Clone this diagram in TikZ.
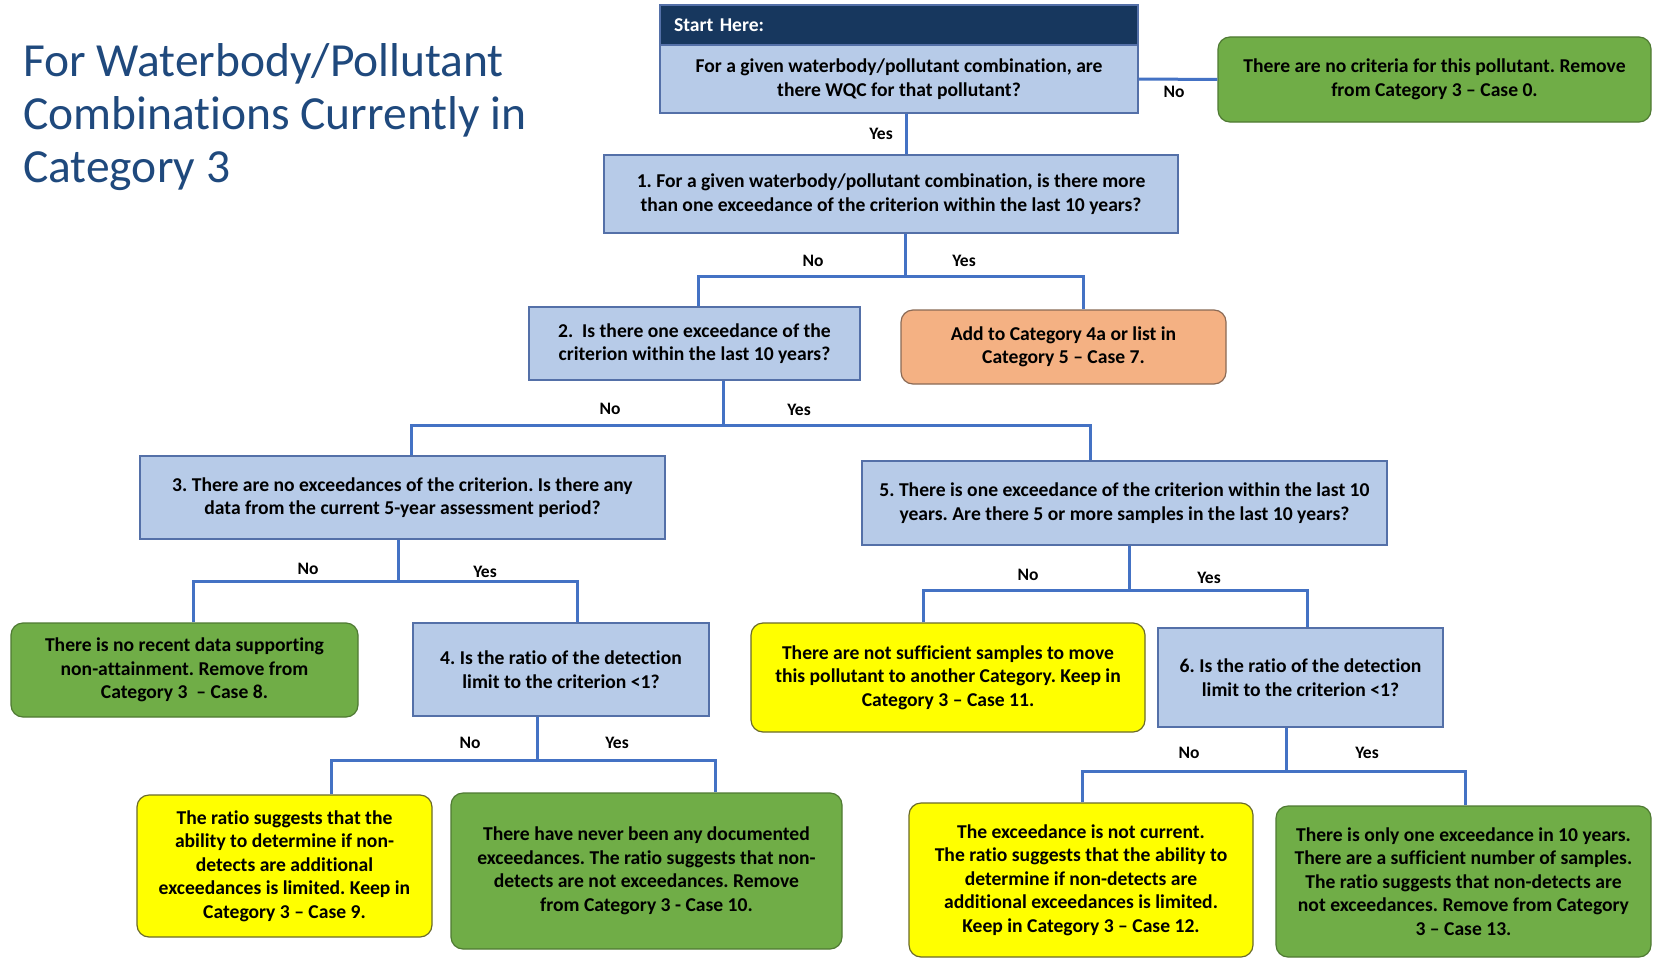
\documentclass[tikz,border=0pt]{standalone}
\usepackage{fontspec}
\setmainfont{Carlito}[Ligatures=NoCommon]
\frenchspacing
\definecolor{navy}{HTML}{17375E}
\definecolor{qfill}{HTML}{B7CBE8}
\definecolor{qborder}{HTML}{5470A8}
\definecolor{lineblue}{HTML}{4472C4}
\definecolor{gfill}{HTML}{70AD47}
\definecolor{gborder}{HTML}{4F7A33}
\definecolor{yfill}{HTML}{FFFF00}
\definecolor{yborder}{HTML}{6B6B2A}
\definecolor{ofill}{HTML}{F4B183}
\definecolor{oborder}{HTML}{8A6A55}
\definecolor{titleblue}{HTML}{1F497D}
\begin{document}
\begin{tikzpicture}[x=1pt,y=-1pt,
  box/.style={draw, line width=1.2pt, inner sep=0pt, align=center, font=\bfseries\fontsize{19.6}{23.5}\selectfont},
  qbox/.style={box, fill=qfill, draw=qborder},
  gbox/.style={box, fill=gfill, draw=gborder, rounded corners=12pt},
  ybox/.style={box, fill=yfill, draw=yborder, rounded corners=12pt},
  obox/.style={box, fill=ofill, draw=oborder, rounded corners=12pt},
  conn/.style={draw=lineblue, line width=3pt},
  lbl/.style={font=\bfseries\fontsize{17.5}{20}\selectfont, inner sep=0pt},
  ttl/.style={anchor=base west, inner sep=0pt, text=titleblue, font=\fontsize{47.5}{52}\selectfont}]
\useasboundingbox (0,0) rectangle (1653,958);
\fill[white] (0,0) rectangle (1653,958);

% title
\node[ttl] (t1) at (23,77) {For Waterbody/Pollutant};
\node[ttl] (t2) at (23,129.5) {Combinations Currently in};
\node[ttl] (t3) at (23,182) {Category 3};

% boxes
\node[draw=qborder, fill=navy, line width=1.2pt, minimum width=478pt, minimum height=40pt, inner xsep=14pt, inner ysep=0pt, text width=450pt, align=left, text=white, font=\bfseries\fontsize{19.6}{23.5}\selectfont] (hdr) at (899,25) {Start Here:};
\node[qbox, minimum width=478pt, minimum height=68pt] (start) at (899,79) {For a given waterbody/pollutant combination, are\\there WQC for that pollutant?};
\node[gbox, minimum width=433pt, minimum height=85pt] (c0) at (1434.5,79.5) {There are no criteria for this pollutant. Remove\\from Category 3 -- Case 0.};
\node[qbox, minimum width=574pt, minimum height=78pt] (q1) at (891,194) {1. For a given waterbody/pollutant combination, is there more\\than one exceedance of the criterion within the last 10 years?};
\node[qbox, minimum width=331pt, minimum height=73pt] (q2) at (694.5,343.5) {2.\ \ Is there one exceedance of the\\criterion within the last 10 years?};
\node[obox, minimum width=325pt, minimum height=74pt] (c7) at (1063.5,347) {Add to Category 4a or list in\\Category 5 -- Case 7.};
\node[qbox, minimum width=525pt, minimum height=83pt] (q3) at (402.5,497.5) {3. There are no exceedances of the criterion. Is there any\\data\ from the current 5-year assessment period?};
\node[qbox, minimum width=525pt, minimum height=84pt] (q5) at (1124.5,503) {5. There is one exceedance of the criterion within the last 10\\years. Are there 5 or more samples in the last 10 years?};
\node[gbox, minimum width=347pt, minimum height=94pt] (c8) at (184.5,670) {There is no recent data supporting\\non-attainment. Remove from\\Category 3\ \ -- Case 8.};
\node[qbox, minimum width=296pt, minimum height=93pt] (q4) at (561,669.5) {4. Is the ratio of the detection\\limit to the criterion <1?};
\node[ybox, minimum width=295pt, minimum height=142pt] (c9) at (284.5,866) {The ratio suggests that the\\ability to determine if non-\\detects are additional\\exceedances is limited. Keep in\\Category 3 -- Case 9.};
\node[gbox, minimum width=391pt, minimum height=156pt] (c10) at (646.5,871) {There have never been any documented\\exceedances. The ratio suggests that non-\\detects are not exceedances. Remove\\from Category 3 - Case 10.};
\node[ybox, minimum width=394pt, minimum height=109pt] (c11) at (948,677.5) {There are not sufficient samples to move\\this pollutant to another Category. Keep in\\Category 3 -- Case 11.};
\node[qbox, minimum width=285pt, minimum height=99pt] (q6) at (1300.5,677.5) {6. Is the ratio of the detection\\limit to the criterion <1?};
\node[ybox, minimum width=344pt, minimum height=154pt] (c12) at (1081,880) {The exceedance is not current.\\The ratio suggests that the ability to\\determine if non-detects are\\additional exceedances is limited.\\Keep in Category 3 -- Case 12.};
\node[gbox, minimum width=375pt, minimum height=151pt] (c13) at (1463.5,881.5) {There is only one exceedance in 10 years.\\There are a sufficient number of samples.\\The ratio suggests that\ non-detects are\\not exceedances. Remove from Category\\3 -- Case 13.};

% junction coordinates
\coordinate (a0) at (906,134);
\coordinate (j1) at (905,276);   \coordinate (j1l) at (698,276);  \coordinate (j1r) at (1083,276);
\coordinate (j2) at (723,425);   \coordinate (j2l) at (411,425);  \coordinate (j2r) at (1090,425);
\coordinate (j3) at (398,581);   \coordinate (j3l) at (193,581);  \coordinate (j3r) at (577,581);
\coordinate (j4) at (537,760);   \coordinate (j4l) at (331,760);  \coordinate (j4r) at (715,760);
\coordinate (j5) at (1129,590);  \coordinate (j5l) at (923,590);  \coordinate (j5r) at (1307,590);
\coordinate (j6) at (1286,771);  \coordinate (j6l) at (1082,771); \coordinate (j6r) at (1465,771);

% connectors
\draw[conn] (start.east) -- (c0.west);
\draw[conn] (start.south -| a0) -- (q1.north -| a0);
\draw[conn] (q1.south -| j1) -- (j1);
\draw[conn] (j1l |- q2.north) -- (j1l) -- (j1r) -- (j1r |- c7.north);
\draw[conn] (q2.south -| j2) -- (j2);
\draw[conn] (j2l |- q3.north) -- (j2l) -- (j2r) -- (j2r |- q5.north);
\draw[conn] (q3.south -| j3) -- (j3);
\draw[conn] (j3l |- c8.north) -- (j3l) -- (j3r) -- (j3r |- q4.north);
\draw[conn] (q4.south -| j4) -- (j4);
\draw[conn] (j4l |- c9.north) -- (j4l) -- (j4r) -- (j4r |- c10.north);
\draw[conn] (q5.south -| j5) -- (j5);
\draw[conn] (j5l |- c11.north) -- (j5l) -- (j5r) -- (j5r |- q6.north);
\draw[conn] (q6.south -| j6) -- (j6);
\draw[conn] (j6l |- c12.north) -- (j6l) -- (j6r) -- (j6r |- c13.north);

% labels
\node[lbl] (l0n) at (1174,92) {No};
\node[lbl] (l0y) at (881,134) {Yes};
\node[lbl] (l1n) at (813,261) {No};
\node[lbl] (l1y) at (964,261) {Yes};
\node[lbl] (l2n) at (610,409) {No};
\node[lbl] (l2y) at (799,410) {Yes};
\node[lbl] (l3n) at (308,569) {No};
\node[lbl] (l3y) at (485,572) {Yes};
\node[lbl] (l4n) at (470,743) {No};
\node[lbl] (l4y) at (617,743) {Yes};
\node[lbl] (l5n) at (1028,575) {No};
\node[lbl] (l5y) at (1209,578) {Yes};
\node[lbl] (l6n) at (1189,753) {No};
\node[lbl] (l6y) at (1367,753) {Yes};
\end{tikzpicture}
\end{document}
